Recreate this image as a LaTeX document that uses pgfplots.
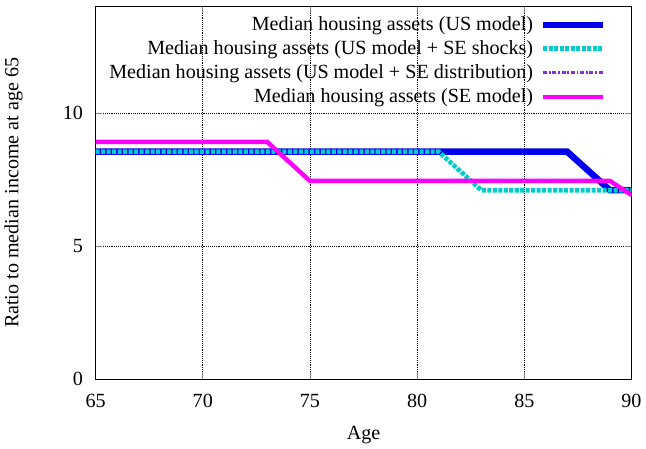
\documentclass[border=0pt]{standalone}
\usepackage{fontspec}
\setmainfont{Liberation Serif}
\usepackage{pgfplots}
\pgfplotsset{compat=1.18}
\definecolor{usblue}{RGB}{0,0,238}
\definecolor{secyan}{RGB}{0,204,204}
\definecolor{sepurple}{RGB}{138,43,226}
\definecolor{semag}{RGB}{255,0,255}
\begin{document}
\begin{tikzpicture}
\begin{axis}[
    scale only axis,
    width=400pt, height=278pt,
    xmin=65, xmax=90, ymin=0, ymax=14,
    xtick={65,70,...,90}, ytick={0,5,10},
    xlabel={Age}, ylabel={Ratio to median income at age 65},
    font=\fontsize{15}{18}\selectfont,
    /pgf/number format/assume math mode=true,
    xticklabel style={yshift=-8pt},
    yticklabel style={xshift=-6pt},
    xlabel style={yshift=-7pt},
    ylabel style={yshift=23pt},
    tick align=inside, tick pos=both,
    major tick length=5pt,
    tick style={line width=0.5pt},
    xmajorgrids, ymajorgrids,
    grid style={black, densely dotted, line width=0.5pt},
    axis line style={line width=0.8pt},
    legend style={draw=none, fill=none, at={(0.96,0.988)}, anchor=north east,
        legend cell align=right, row sep=2pt,
        nodes={inner xsep=5pt}},
    legend plot pos=right,
    legend image post style={xscale=2.6},
]
\addlegendimage{usblue, line width=4.8pt}
\addlegendentry{Median housing assets (US model)}
\addlegendimage{secyan, line width=3.4pt, dash pattern=on 3pt off 1.1pt}
\addlegendentry{Median housing assets (US model + SE shocks)}
\addlegendimage{sepurple, line width=2.6pt, dash pattern=on 3pt off 1.3pt on 1.3pt off 1.3pt}
\addlegendentry{Median housing assets (US model + SE distribution)}
\addlegendimage{semag, line width=3.3pt}
\addlegendentry{Median housing assets (SE model)}
% SE distribution (hidden under US model)
\addplot[forget plot, sepurple, line width=2.6pt] coordinates {
    (65,8.55) (87,8.55) (89,7.1) (90,7.1)
};
% US model
\addplot[forget plot, usblue, line width=4.8pt] coordinates {
    (65,8.55) (87,8.55) (89,7.1) (90,7.1)
};
% US model + SE shocks
\addplot[forget plot, secyan, line width=3.4pt, dash pattern=on 3pt off 1.1pt] coordinates {
    (65,8.55) (81,8.55) (83,7.1) (90,7.1)
};
% SE model
\addplot[forget plot, semag, line width=3.3pt] coordinates {
    (65,8.92) (73,8.92) (75,7.45) (89,7.45) (90,6.92)
};
\end{axis}
\path ([yshift=5pt]current axis.north) ([yshift=-5pt]current axis.south);
\end{tikzpicture}
\end{document}
